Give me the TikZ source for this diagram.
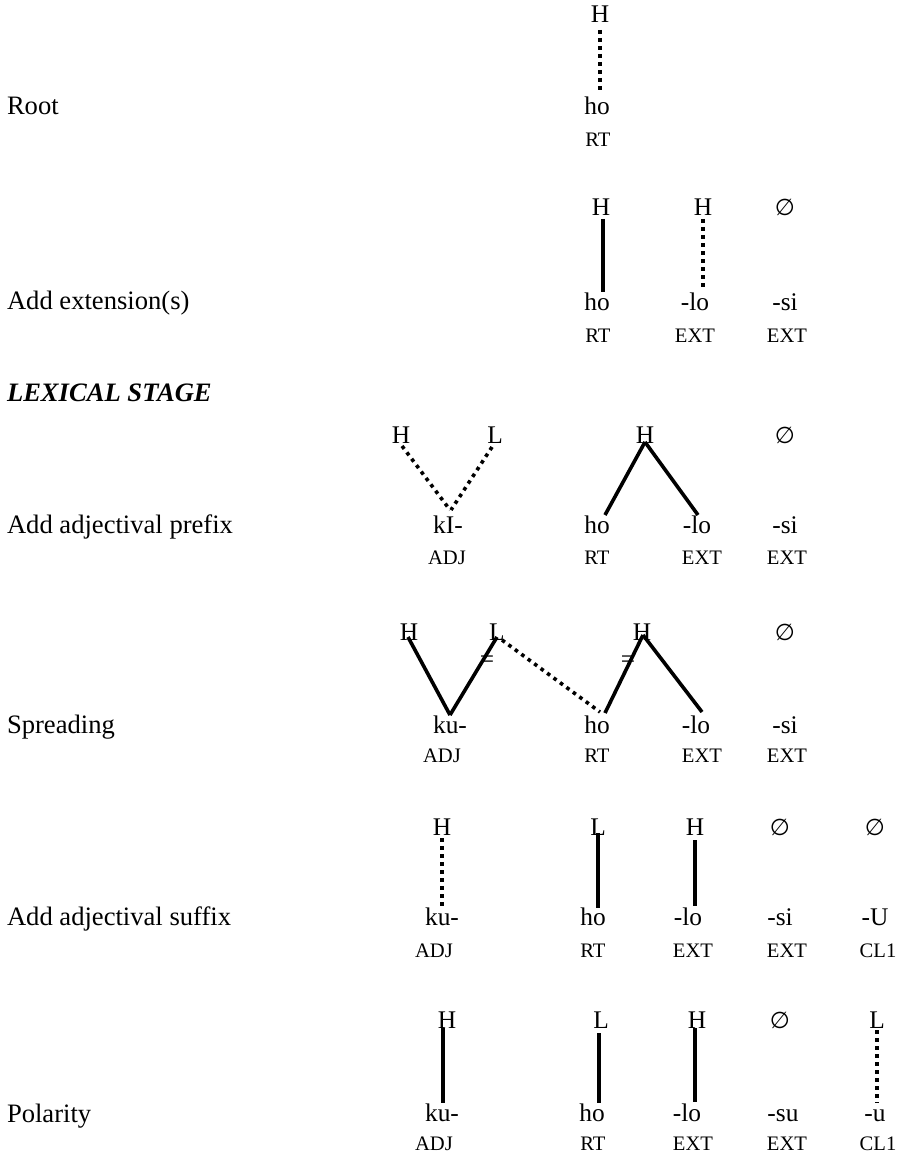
\documentclass[tikz,border=0pt]{standalone}
\usepackage{fontspec}
\setmainfont{Liberation Serif}
\newfontfamily\symfont{DejaVu Sans}
\usetikzlibrary{calc}
\newcommand{\emp}{{\symfont\fontsize{11.5}{14}\selectfont ∅}}
\begin{document}
\begin{tikzpicture}[x=0.5pt,y=-0.5pt,
  every node/.style={inner sep=0pt,outer sep=0pt,anchor=base},
  tn/.style={font=\fontsize{12.7}{15}\selectfont},
  wd/.style={font=\fontsize{12.7}{15}\selectfont},
  lab/.style={font=\fontsize{10.3}{12}\selectfont},
  side/.style={font=\fontsize{13.3}{16}\selectfont,anchor=base west},
  stage/.style={font=\fontsize{13.3}{16}\selectfont\bfseries\itshape,anchor=base west},
  eq/.style={font=\fontsize{12.7}{15}\selectfont,anchor=center},
  conn/.style={line width=1.8pt},
  dotl/.style={line width=1.8pt,dash pattern=on 1.8pt off 2.2pt}]
\useasboundingbox (0,0) rectangle (915,1155);

% left labels
\node[side] (s1) at (7,115) {Root};
\node[side] (s2) at (7,309) {Add extension(s)};
\node[stage] (s0) at (7,401) {LEXICAL STAGE};
\node[side] (s3) at (7,533) {Add adjectival prefix};
\node[side] (s4) at (7,733) {Spreading};
\node[side] (s5) at (7,925) {Add adjectival suffix};
\node[side] (s6) at (7,1122) {Polarity};

% Row 1
\node[tn] (r1H) at (600,23) {H};
\node[wd] (r1w) at (597,115) {ho};
\node[lab] (r1l) at (598,147) {RT};
\draw[dotl] ($(r1H.base)+(0,7)$) -- ($(r1w.base)+(3,-22)$);

% Row 2
\node[tn] (r2H1) at (601,216) {H};
\node[tn] (r2H2) at (703,216) {H};
\node[tn] (r2E) at (785,216) {\emp};
\node[wd] (r2w1) at (597,310) {ho};
\node[wd] (r2w2) at (695,310) {-lo};
\node[wd] (r2w3) at (785,310) {-si};
\node[lab] (r2l1) at (598,342) {RT};
\node[lab] (r2l2) at (695,342) {EXT};
\node[lab] (r2l3) at (787,342) {EXT};
\draw[conn] ($(r2H1.base)+(2,3)$) -- ($(r2w1.base)+(6,-18)$);
\draw[dotl] ($(r2H2.base)+(0,3)$) -- ($(r2w2.base)+(8,-20)$);

% Row 3
\node[tn] (r3H1) at (401,443) {H};
\node[tn] (r3L) at (495,443) {L};
\node[tn] (r3H2) at (645,443) {H};
\node[tn] (r3E) at (785,443) {\emp};
\node[wd] (r3w0) at (448,533) {kI-};
\node[wd] (r3w1) at (597,533) {ho};
\node[wd] (r3w2) at (697,533) {-lo};
\node[wd] (r3w3) at (785,533) {-si};
\node[lab] (r3l0) at (447,564) {ADJ};
\node[lab] (r3l1) at (597,564) {RT};
\node[lab] (r3l2) at (702,564) {EXT};
\node[lab] (r3l3) at (787,564) {EXT};
\draw[dotl] ($(r3H1.base)+(1,3)$) -- ($(r3w0.base)+(2,-23)$);
\draw[dotl] ($(r3L.base)+(-3,4)$) -- ($(r3w0.base)+(3,-23)$);
\draw[conn] ($(r3H2.base)+(0,-1)$) -- ($(r3w1.base)+(8,-18)$);
\draw[conn] ($(r3H2.base)+(0,-1)$) -- ($(r3w2.base)+(1,-18)$);

% Row 4
\node[tn] (r4H1) at (409,640) {H};
\node[tn] (r4L) at (497,640) {L};
\node[tn] (r4H2) at (642,640) {H};
\node[tn] (r4E) at (785,640) {\emp};
\node[wd] (r4w0) at (450,733) {ku-};
\node[wd] (r4w1) at (597,733) {ho};
\node[wd] (r4w2) at (696,733) {-lo};
\node[wd] (r4w3) at (785,733) {-si};
\node[lab] (r4l0) at (442,762) {ADJ};
\node[lab] (r4l1) at (597,762) {RT};
\node[lab] (r4l2) at (702,762) {EXT};
\node[lab] (r4l3) at (787,762) {EXT};
\draw[conn] ($(r4H1.base)+(-1,-3)$) -- ($(r4w0.base)+(0,-18)$);
\draw[conn] ($(r4L.base)+(0,-3)$) -- ($(r4w0.base)+(0,-18)$);
\draw[dotl] ($(r4L.base)+(5,0)$) -- ($(r4w1.base)+(3,-21)$);
\draw[conn] ($(r4H2.base)+(1,-5)$) -- ($(r4w1.base)+(8,-20)$);
\draw[conn] ($(r4H2.base)+(1,-5)$) -- ($(r4w2.base)+(6,-21)$);
\node[eq] (r4q1) at (487,662) {=};
\node[eq] (r4q2) at (628,662) {=};

% Row 5
\node[tn] (r5H1) at (442,835) {H};
\node[tn] (r5L) at (598,835) {L};
\node[tn] (r5H2) at (695,835) {H};
\node[tn] (r5E1) at (780,835) {\emp};
\node[tn] (r5E2) at (875,835) {\emp};
\node[wd] (r5w0) at (442,925) {ku-};
\node[wd] (r5w1) at (593,925) {ho};
\node[wd] (r5w2) at (688,925) {-lo};
\node[wd] (r5w3) at (780,925) {-si};
\node[wd] (r5w4) at (875,925) {-U};
\node[lab] (r5l0) at (434,957) {ADJ};
\node[lab] (r5l1) at (593,957) {RT};
\node[lab] (r5l2) at (693,957) {EXT};
\node[lab] (r5l3) at (787,957) {EXT};
\node[lab] (r5l4) at (878,957) {CL1};
\draw[dotl] ($(r5H1.base)+(0,3)$) -- ($(r5w0.base)+(0,-17)$);
\draw[conn] ($(r5L.base)+(0,-2)$) -- ($(r5w1.base)+(5,-17)$);
\draw[conn] ($(r5H2.base)+(0,5)$) -- ($(r5w2.base)+(7,-19)$);

% Row 6
\node[tn] (r6H1) at (447,1028) {H};
\node[tn] (r6L1) at (601,1028) {L};
\node[tn] (r6H2) at (697,1028) {H};
\node[tn] (r6E) at (780,1028) {\emp};
\node[tn] (r6L2) at (877,1028) {L};
\node[wd] (r6w0) at (442,1121) {ku-};
\node[wd] (r6w1) at (592,1121) {ho};
\node[wd] (r6w2) at (687,1121) {-lo};
\node[wd] (r6w3) at (783,1121) {-su};
\node[wd] (r6w4) at (875,1121) {-u};
\node[lab] (r6l0) at (434,1150) {ADJ};
\node[lab] (r6l1) at (593,1150) {RT};
\node[lab] (r6l2) at (693,1150) {EXT};
\node[lab] (r6l3) at (787,1150) {EXT};
\node[lab] (r6l4) at (878,1150) {CL1};
\draw[conn] ($(r6H1.base)+(-4,0)$) -- ($(r6w0.base)+(1,-18)$);
\draw[conn] ($(r6L1.base)+(-2,5)$) -- ($(r6w1.base)+(7,-18)$);
\draw[conn] ($(r6H2.base)+(-2,0)$) -- ($(r6w2.base)+(8,-19)$);
\draw[dotl] ($(r6L2.base)+(0,2)$) -- ($(r6w4.base)+(2,-18)$);
\end{tikzpicture}
\end{document}
